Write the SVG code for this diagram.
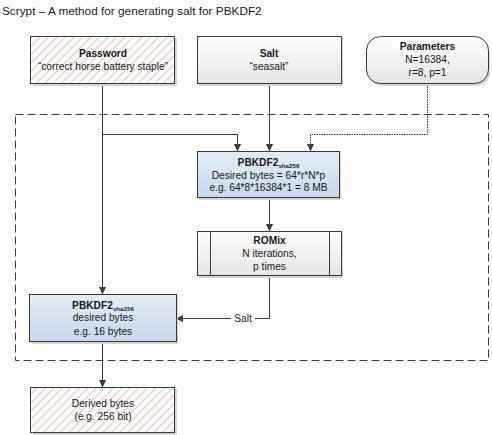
<svg xmlns="http://www.w3.org/2000/svg" width="492" height="435" viewBox="0 0 492 435">
<style>
text{font-family:"Liberation Sans",Arial,sans-serif;font-size:10.2px;fill:#1a1a1a;text-anchor:middle}
.b{font-weight:bold}
.sub{font-size:6.2px;font-weight:bold}
.title{font-size:11.8px;text-anchor:start}
.box{stroke:#3a3a3a;stroke-width:1}
.sh{fill:#d4d4d4}
.ln{fill:none;stroke:#3a3a3a;stroke-width:1}
.dot{fill:none;stroke:#3a3a3a;stroke-width:1;stroke-dasharray:1.5 1}
</style>
<defs>
<pattern id="hatch" width="6" height="6" patternUnits="userSpaceOnUse" patternTransform="rotate(45)">
<rect width="6" height="6" fill="#fff"/>
<line x1="0" y1="0" x2="0" y2="6" stroke="#f09a9a" stroke-width="1.3"/>
</pattern>
<linearGradient id="gray" x1="0" y1="0" x2="0" y2="1">
<stop offset="0" stop-color="#ffffff"/><stop offset="1" stop-color="#e4e4e4"/>
</linearGradient>
<linearGradient id="blue" x1="0" y1="0" x2="0" y2="1">
<stop offset="0" stop-color="#e4edf6"/><stop offset="1" stop-color="#c6d8eb"/>
</linearGradient>
<marker id="ar" markerWidth="8" markerHeight="8" refX="7" refY="4" orient="auto" markerUnits="userSpaceOnUse">
<path d="M0,0.5 L7.5,4 L0,7.5 Z" fill="#3a3a3a"/>
</marker>
</defs>
<rect width="492" height="435" fill="#fff"/>
<text class="title" x="2" y="15">Scrypt – A method for generating salt for PBKDF2</text>

<g id="container">
<rect x="15.5" y="114.5" width="473" height="246" fill="none" stroke="#3a3a3a" stroke-width="1" stroke-dasharray="8 4"/>
</g>

<g id="connectors">
<path class="ln" d="M102.5,84 V294" marker-end="url(#ar)"/>
<path class="ln" d="M102.5,134.5 H237.5 V151" marker-end="url(#ar)"/>
<path class="ln" d="M269.5,84 V151" marker-end="url(#ar)"/>
<path class="dot" d="M427.5,84 V134.5 H310.5 V151" marker-end="url(#ar)"/>
<path class="ln" d="M269.5,198 V231" marker-end="url(#ar)"/>
<path class="ln" d="M269.5,276 V318.5 H176" marker-end="url(#ar)"/>
<rect x="231" y="312" width="24" height="13" fill="#fff"/>
<text x="243" y="322">Salt</text>
<path class="ln" d="M102.5,342 V387" marker-end="url(#ar)"/>
</g>

<g id="password">
<rect class="sh" x="33" y="38" width="144" height="48"/>
<rect class="box" x="30.5" y="36.5" width="144" height="47" fill="url(#hatch)"/>
<text class="b" x="103" y="57">Password</text>
<text x="103" y="70">“correct horse battery staple”</text>
</g>

<g id="salt">
<rect class="sh" x="199" y="38" width="144" height="48"/>
<rect class="box" x="197.5" y="36.5" width="144" height="47" fill="url(#gray)"/>
<text class="b" x="269" y="57">Salt</text>
<text x="269" y="69.5">“seasalt”</text>
</g>

<g id="parameters">
<rect class="sh" x="368" y="38" width="122" height="48" rx="14"/>
<rect class="box" x="366.5" y="36.5" width="122" height="47" rx="14" fill="url(#gray)"/>
<text class="b" x="427.5" y="50">Parameters</text>
<text x="427.5" y="63">N=16384,</text>
<text x="427.5" y="75.5">r=8, p=1</text>
</g>

<g id="pbkdf2-top">
<rect class="sh" x="199" y="153" width="142" height="47"/>
<rect class="box" x="197.5" y="151.5" width="142" height="46" fill="url(#blue)"/>
<text x="268.5" y="166"><tspan class="b">PBKDF2</tspan><tspan class="sub" dy="2">sha256</tspan></text>
<text x="268.5" y="178.5">Desired bytes = 64*r*N*p</text>
<text x="268.5" y="190.5">e.g. 64*8*16384*1 = 8 MB</text>
</g>

<g id="romix">
<rect class="sh" x="199" y="233" width="144" height="45"/>
<rect class="box" x="197.5" y="231.5" width="144" height="44" fill="url(#gray)"/>
<line class="ln" x1="210.5" y1="231.5" x2="210.5" y2="275.5"/>
<line class="ln" x1="329.5" y1="231.5" x2="329.5" y2="275.5"/>
<text class="b" x="269.5" y="244">ROMix</text>
<text x="269.5" y="257">N iterations,</text>
<text x="269.5" y="270">p times</text>
</g>

<g id="pbkdf2-bottom">
<rect class="sh" x="32" y="296" width="146" height="48"/>
<rect class="box" x="29.5" y="294.5" width="147" height="47" fill="url(#blue)"/>
<text x="103" y="308.5"><tspan class="b">PBKDF2</tspan><tspan class="sub" dy="2">sha256</tspan></text>
<text x="103" y="321">desired bytes</text>
<text x="103" y="334.5">e.g. 16 bytes</text>
</g>

<g id="derived">
<rect class="sh" x="33" y="389" width="144" height="46"/>
<rect class="box" x="30.5" y="387.5" width="144" height="45" fill="url(#hatch)"/>
<text x="103" y="406.5">Derived bytes</text>
<text x="103" y="419.5">(e.g. 256 bit)</text>
</g>
</svg>
